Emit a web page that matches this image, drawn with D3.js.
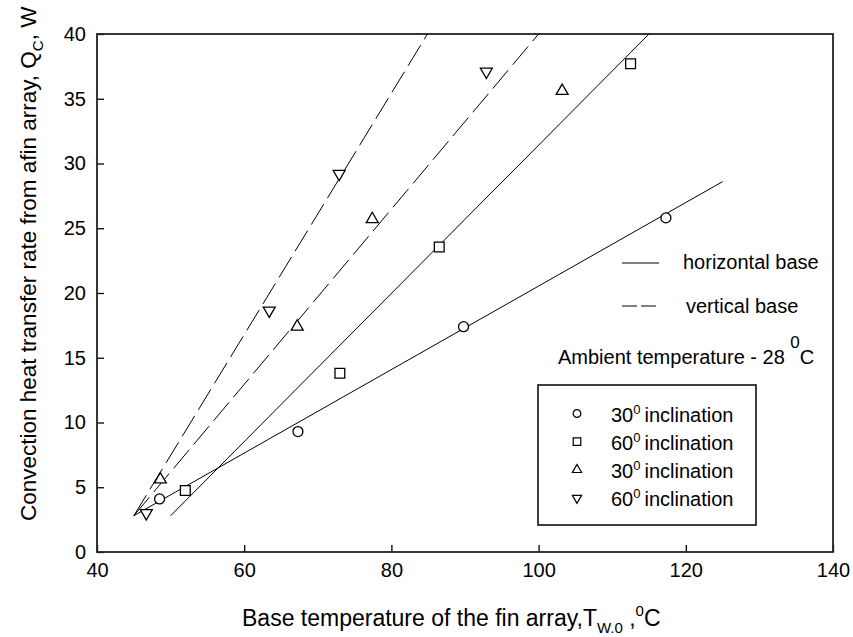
<!DOCTYPE html>
<html>
<head>
<meta charset="utf-8">
<script src="https://cdn.jsdelivr.net/npm/d3@7"></script>
<style>
  body { margin: 0; background: #fff; }
  svg { display: block; font-family: "Liberation Sans", Arial, sans-serif; }
</style>
</head>
<body>
<div id="chart"></div>
<script>
// measured points (x = base temperature, y = Qc)
var circH30 = [[48.5, 4.1], [67.3, 9.3], [89.8, 17.4], [117.3, 25.8]];
var sqH60 = [[52.0, 4.75], [73.0, 13.8], [86.5, 23.55], [112.5, 37.7]];
var triV30 = [[48.6, 5.6], [67.2, 17.4], [77.4, 25.7], [103.2, 35.6]];
var triV60 = [[46.7, 3.0], [63.4, 18.65], [72.9, 29.2], [92.9, 37.1]];

// fitted lines (end points)
var fitH30 = [[45, 2.8], [125, 28.6]];
var fitH60 = [[50, 2.8], [115, 40]];
var fitV30 = [[45, 2.8], [100, 40]];
var fitV60 = [[45, 2.8], [84.9, 40]];

var xTicks = [40, 60, 80, 100, 120, 140];
var yTicks = [0, 5, 10, 15, 20, 25, 30, 35, 40];
var legendLabels = ["30", "60", "30", "60"];

var W = 853, H = 637,
    margin = { top: 34, right: 20, bottom: 85, left: 97 },
    x0 = margin.left, x1 = W - margin.right,
    y0 = H - margin.bottom, y1 = margin.top;

var svg = d3.select("#chart").append("svg")
    .attr("width", W)
    .attr("height", H);

var x = d3.scaleLinear().domain([40, 140]).range([x0, x1]);
var y = d3.scaleLinear().domain([0, 40]).range([y0, y1]);

// axes, ticks pointing inward
var gx = svg.append("g")
    .attr("transform", "translate(0," + y0 + ")")
    .call(d3.axisBottom(x).tickValues(xTicks).tickSize(-7).tickPadding(11));
var gy = svg.append("g")
    .attr("transform", "translate(" + x0 + ",0)")
    .call(d3.axisLeft(y).tickValues(yTicks).tickSize(-7).tickPadding(11));

[gx, gy].forEach(function(g) {
    g.select(".domain").remove();
    g.selectAll("line").attr("stroke", "#000").attr("stroke-width", 1.3);
    g.selectAll("text")
        .attr("font-family", "Liberation Sans, Arial, sans-serif")
        .attr("font-size", 20)
        .attr("fill", "#000");
});

svg.append("rect")
    .attr("x", x0)
    .attr("y", y1)
    .attr("width", x1 - x0)
    .attr("height", y0 - y1)
    .attr("fill", "none")
    .attr("stroke", "#222")
    .attr("stroke-width", 1.8);

var line = d3.line()
    .x(function(d) { return x(d[0]); })
    .y(function(d) { return y(d[1]); });

var fits = [
    { d: fitH30, dash: null },
    { d: fitH60, dash: null },
    { d: fitV30, dash: "24,7" },
    { d: fitV60, dash: "24,7" }
];
fits.forEach(function(f) {
    svg.append("path")
        .datum(f.d)
        .attr("fill", "none")
        .attr("stroke", "#000")
        .attr("stroke-width", 1)
        .attr("stroke-dasharray", f.dash)
        .attr("d", line);
});

var series = [
    { d: circH30, type: d3.symbolCircle, size: 78, rot: 0 },
    { d: sqH60, type: d3.symbolSquare, size: 96, rot: 0 },
    { d: triV30, type: d3.symbolTriangle, size: 62, rot: 0 },
    { d: triV60, type: d3.symbolTriangle, size: 62, rot: 180 }
];
series.forEach(function(s) {
    svg.append("g").selectAll("path")
        .data(s.d)
        .enter().append("path")
        .attr("d", d3.symbol().type(s.type).size(s.size))
        .attr("transform", function(d) {
            return "translate(" + x(d[0]) + "," + y(d[1]) + ") rotate(" + s.rot + ")";
        })
        .attr("fill", "#fff")
        .attr("stroke", "#000")
        .attr("stroke-width", 1.3);
});

// line style legend
svg.append("line")
    .attr("x1", 622).attr("x2", 659).attr("y1", 263).attr("y2", 263)
    .attr("stroke", "#000").attr("stroke-width", 1);
svg.append("line")
    .attr("x1", 622).attr("x2", 656).attr("y1", 306).attr("y2", 306)
    .attr("stroke", "#000").attr("stroke-width", 1)
    .attr("stroke-dasharray", "15,4");
svg.append("text").attr("x", 683).attr("y", 269)
    .attr("font-size", 20).text("horizontal base");
svg.append("text").attr("x", 686).attr("y", 313)
    .attr("font-size", 20).text("vertical base");

var amb = svg.append("text").attr("x", 558).attr("y", 364).attr("font-size", 20);
amb.append("tspan").text("Ambient temperature - 28 ");
amb.append("tspan").attr("font-size", 17).attr("dy", -16).text("0");
amb.append("tspan").attr("dy", 16).text("C");

// symbol legend box
svg.append("rect")
    .attr("x", 538).attr("y", 385)
    .attr("width", 218).attr("height", 140)
    .attr("fill", "none")
    .attr("stroke", "#000")
    .attr("stroke-width", 1.5);

var rowY = d3.scalePoint().domain(d3.range(4)).range([413.5, 498]);
var leg = svg.append("g").selectAll("g")
    .data(series)
    .enter().append("g")
    .attr("transform", function(d, i) { return "translate(0," + rowY(i) + ")"; });

leg.append("path")
    .attr("d", function(d) { return d3.symbol().type(d.type).size(d.size * 0.6)(); })
    .attr("transform", function(d) { return "translate(577,0) rotate(" + d.rot + ")"; })
    .attr("fill", "#fff")
    .attr("stroke", "#000")
    .attr("stroke-width", 1.2);

var lt = leg.append("text")
    .attr("x", 611)
    .attr("y", 8)
    .attr("font-size", 20);
lt.append("tspan").text(function(d, i) { return legendLabels[i]; });
lt.append("tspan").attr("font-size", 13).attr("dy", -8).text("0");
lt.append("tspan").attr("dy", 8).attr("dx", 4).text("inclination");

// axis titles
var xt = svg.append("text")
    .attr("x", 242)
    .attr("y", 626)
    .attr("font-size", 23);
xt.append("tspan").text("Base temperature of the fin array,T");
xt.append("tspan").attr("font-size", 15).attr("dy", 7).text("W.0");
xt.append("tspan").attr("dy", -7).text(" ,");
xt.append("tspan").attr("font-size", 15).attr("dy", -10).text("0");
xt.append("tspan").attr("dy", 10).text("C");

var yt = svg.append("text")
    .attr("transform", "translate(36,521) rotate(-90)")
    .attr("font-size", 22.5);
yt.append("tspan").text("Convection heat transfer rate from afin array, Q");
yt.append("tspan").attr("font-size", 15).attr("dy", 7).text("C");
yt.append("tspan").attr("dy", -7).text(", W");
</script>
</body>
</html>
